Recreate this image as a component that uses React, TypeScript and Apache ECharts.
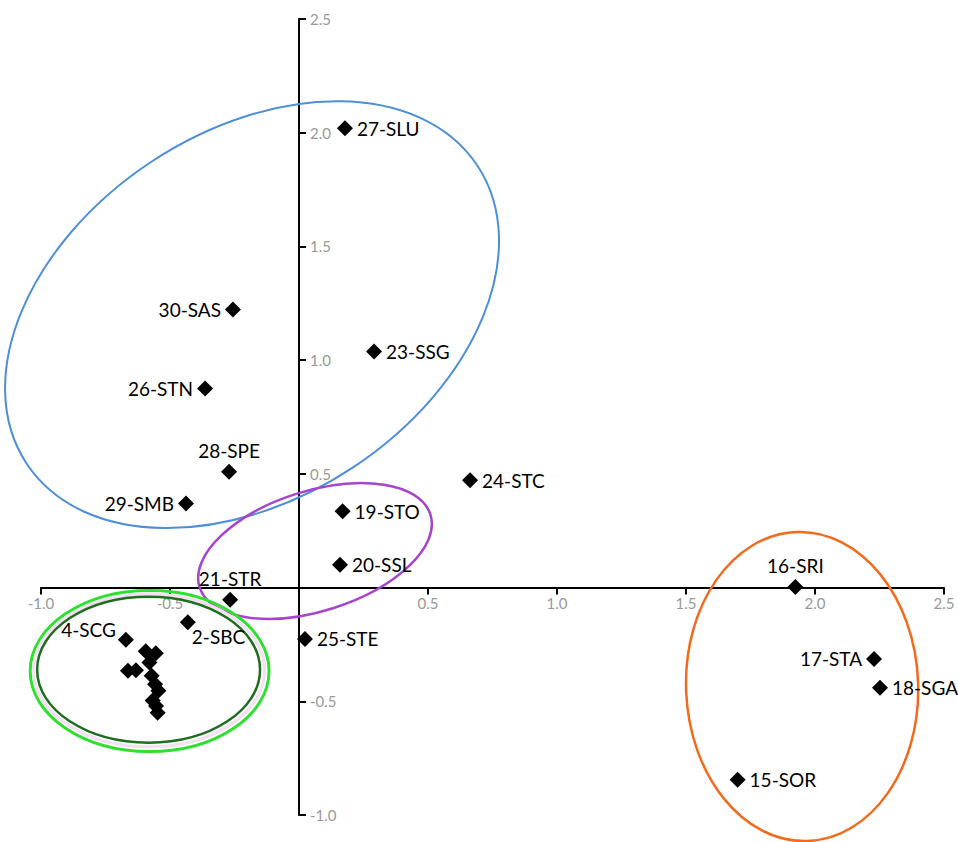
import React, { useEffect, useRef } from "react";
import * as echarts from "echarts";

// ---- data ----
const pointNames = [
  "27-SLU", "30-SAS", "23-SSG", "26-STN", "28-SPE", "29-SMB", "24-STC",
  "19-STO", "20-SSL", "21-STR", "2-SBC", "4-SCG", "25-STE",
  "16-SRI", "17-STA", "18-SGA", "15-SOR",
];
const pointX = [
  0.178, -0.256, 0.291, -0.364, -0.271, -0.438, 0.663,
  0.169, 0.159, -0.267, -0.431, -0.671, 0.023,
  1.924, 2.229, 2.252, 1.70,
];
const pointY = [
  2.02, 1.223, 1.038, 0.875, 0.509, 0.37, 0.472,
  0.336, 0.10, -0.053, -0.152, -0.229, -0.226,
  0.003, -0.314, -0.44, -0.845,
];
// label placement per point
const labelPlace = [
  "right", "left", "right", "left", "top", "left", "right",
  "right", "right", "top", "belowRight", "aboveLeft", "right",
  "top", "left", "right", "right",
];

// unlabeled cluster points
const clusterX = [-0.594, -0.555, -0.663, -0.632, -0.580, -0.571, -0.558, -0.545, -0.567, -0.554, -0.548];
const clusterY = [-0.280, -0.289, -0.366, -0.363, -0.329, -0.388, -0.425, -0.454, -0.496, -0.521, -0.550];

// group ellipses: centre x, centre y, radius x (x units), radius y (y units), rotation (deg)
const ellipseCX = [-0.182, 0.062, -0.579, -0.581, -0.583, 1.95];
const ellipseCY = [1.20, 0.161, -0.367, -0.364, -0.361, -0.435];
const ellipseRX = [1.047, 0.469, 0.463, 0.448, 0.432, 0.450];
const ellipseRY = [0.805, 0.264, 0.354, 0.336, 0.321, 0.68];
const ellipseRot = [33.5, 17.5, 0, 0, 0, 2];
const ellipseColor = ["#4f8fd8", "#a645cc", "#2fe02f", "#f3e0f2", "#1d6e1d", "#f26b1d"];
const ellipseWidth = [2, 2.5, 3, 3, 2.5, 2.5];

const axisTicks = [-1.0, -0.5, 0, 0.5, 1.0, 1.5, 2.0, 2.5];

const W = 958;
const H = 842;
const GRID = { left: 41, right: 14, top: 19, bottom: 27 };

function labelFor(place: string) {
  const base = { show: true, color: "#000", fontFamily: "Lato", fontSize: 19 };
  switch (place) {
    case "left":
      return { ...base, position: "left", distance: 4 };
    case "top":
      return { ...base, position: "top", distance: 4 };
    case "belowRight":
      return { ...base, position: [12, 13] };
    case "aboveLeft":
      return { ...base, position: "left", distance: 2, offset: [0, -10] };
    default:
      return { ...base, position: "right", distance: 4 };
  }
}

export default function App() {
  const ref = useRef<HTMLDivElement>(null);
  useEffect(() => {
    if (!ref.current) return;
    const chart = echarts.init(ref.current, undefined, { renderer: "svg" });
    const labeled = pointNames.map((n, i) => ({
      name: n,
      value: [pointX[i], pointY[i]],
      label: { ...labelFor(labelPlace[i]), formatter: n },
    }));
    const cluster = clusterX.map((x, i) => [x, clusterY[i]]);
    const ellipses = ellipseCX.map((cx, i) => [cx, ellipseCY[i], ellipseRX[i], ellipseRY[i], ellipseRot[i], i]);
    const fmt = (v: number) => (Math.abs(v) < 1e-9 ? "" : v.toFixed(1));
    const axisMin = axisTicks[0];
    const axisMax = axisTicks[axisTicks.length - 1];
    const gridW = W - GRID.left - GRID.right;
    const gridH = H - GRID.top - GRID.bottom;
    // place the axes through the origin
    const yAxisOffset = -((0 - axisMin) / (axisMax - axisMin)) * gridW;
    const xAxisOffset = -((0 - axisMin) / (axisMax - axisMin)) * gridH;
    chart.setOption({
      animation: false,
      backgroundColor: "#fff",
      grid: { ...GRID, containLabel: false },
      xAxis: {
        type: "value",
        position: "bottom",
        offset: xAxisOffset,
        min: axisMin,
        max: axisMax,
        interval: 0.5,
        axisLine: { show: true, onZero: false, lineStyle: { color: "#000", width: 2 } },
        axisTick: { show: true, length: 7, lineStyle: { color: "#000", width: 2 } },
        axisLabel: { color: "#999", fontSize: 15, fontFamily: "Lato", margin: 8, formatter: fmt },
        splitLine: { show: false },
      },
      yAxis: {
        type: "value",
        position: "left",
        offset: yAxisOffset,
        min: axisMin,
        max: axisMax,
        interval: 0.5,
        axisLine: { show: true, onZero: false, lineStyle: { color: "#000", width: 2 } },
        axisTick: { show: true, inside: true, length: 7, lineStyle: { color: "#000", width: 2 } },
        axisLabel: { inside: true, color: "#999", fontSize: 15, fontFamily: "Lato", margin: 11, formatter: fmt },
        splitLine: { show: false },
      },
      series: [
        {
          type: "custom",
          clip: false,
          z: 1,
          silent: true,
          data: ellipses,
          renderItem: (params: any, api: any) => {
            const c = api.coord([api.value(0), api.value(1)]);
            const rx = api.size([api.value(2), 0])[0];
            const ry = api.size([0, api.value(3)])[1];
            const idx = api.value(5);
            return {
              type: "ellipse",
              x: c[0],
              y: c[1],
              rotation: (api.value(4) * Math.PI) / 180,
              shape: { cx: 0, cy: 0, rx, ry },
              style: { fill: "none", stroke: ellipseColor[idx], lineWidth: ellipseWidth[idx] },
            };
          },
        },
        {
          type: "scatter",
          z: 3,
          symbol: "diamond",
          symbolSize: 16,
          itemStyle: { color: "#000", opacity: 1 },
          data: labeled,
        },
        {
          type: "scatter",
          z: 3,
          symbol: "diamond",
          symbolSize: 16,
          itemStyle: { color: "#000", opacity: 1 },
          data: cluster,
        },
      ],
    });
    return () => chart.dispose();
  }, []);
  return (
    <div
      ref={ref}
      style={{ position: "fixed", left: 0, top: 0, width: W, height: H, background: "#fff" }}
    />
  );
}
